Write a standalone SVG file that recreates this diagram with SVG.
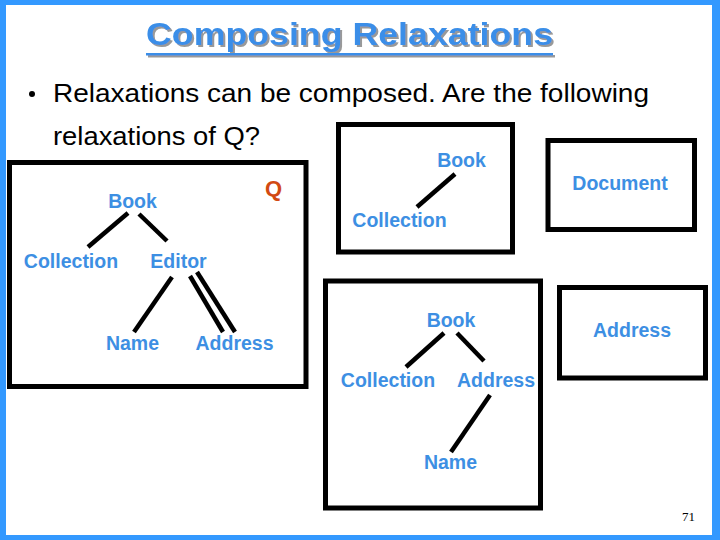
<svg xmlns="http://www.w3.org/2000/svg" width="720" height="540" viewBox="0 0 720 540">
<defs>
<filter id="shadow" x="-5%" y="-20%" width="110%" height="150%">
<feDropShadow dx="2" dy="2" stdDeviation="0.4" flood-color="#999999" flood-opacity="1"/>
</filter>
</defs>
<style>
.frame{fill:#3399ff}
.box{fill:none;stroke:#000;stroke-width:5}
.lbl{font-family:"Liberation Sans",Arial,sans-serif;font-weight:bold;font-size:19.5px;fill:#3d8fe3;text-anchor:middle}
.body{font-family:"Liberation Sans",Arial,sans-serif;font-size:26px;fill:#000}
.edge{stroke:#000;stroke-width:4.5;stroke-linecap:butt}
</style>
<rect width="720" height="540" fill="#fff"/>
<g id="frame">
<rect class="frame" x="0" y="0" width="720" height="5"/>
<rect class="frame" x="0" y="0" width="6" height="540"/>
<rect class="frame" x="712" y="0" width="8" height="540"/>
<rect class="frame" x="0" y="535" width="720" height="5"/>
</g>
<g id="title" filter="url(#shadow)">
<text x="146" y="45" font-family="Liberation Sans,Arial,sans-serif" font-weight="bold" font-size="31" fill="#3a8ee8" textLength="407" lengthAdjust="spacingAndGlyphs">Composing Relaxations</text>
<rect x="146" y="53" width="407" height="2.5" fill="#3a8ee8"/>
</g>
<g id="bullet">
<circle cx="32" cy="94" r="3" fill="#000"/>
<text class="body" x="53" y="102" textLength="596" lengthAdjust="spacingAndGlyphs">Relaxations can be composed. Are the following</text>
<text class="body" x="53" y="145" textLength="207" lengthAdjust="spacingAndGlyphs">relaxations of Q?</text>
</g>
<g id="boxQ">
<rect class="box" x="9.5" y="162.5" width="296.5" height="224"/>
<text x="265" y="196" font-family="Liberation Sans,Arial,sans-serif" font-weight="bold" font-size="22" fill="#d24a12">Q</text>
<text class="lbl" x="132.5" y="208">Book</text>
<text class="lbl" x="71" y="268">Collection</text>
<text class="lbl" x="178.5" y="268">Editor</text>
<text class="lbl" x="132.5" y="350">Name</text>
<text class="lbl" x="234.5" y="350">Address</text>
</g>
<g id="box2">
<rect class="box" x="338.5" y="124.5" width="174" height="127.5"/>
<text class="lbl" x="461.5" y="167">Book</text>
<text class="lbl" x="399.5" y="227">Collection</text>
</g>
<g id="box3">
<rect class="box" x="548" y="140.5" width="146.5" height="89"/>
<text class="lbl" x="620" y="190">Document</text>
</g>
<g id="box4">
<rect class="box" x="325.5" y="281" width="215" height="227"/>
<text class="lbl" x="451" y="327">Book</text>
<text class="lbl" x="388" y="387">Collection</text>
<text class="lbl" x="496" y="387">Address</text>
<text class="lbl" x="450.5" y="469">Name</text>
</g>
<g id="box5">
<rect class="box" x="559.5" y="287.5" width="146" height="90.5"/>
<text class="lbl" x="632" y="337">Address</text>
</g>
<g id="connectors">
<line class="edge" x1="128" y1="213" x2="88" y2="247"/>
<line class="edge" x1="139" y1="214" x2="167" y2="241"/>
<line class="edge" x1="172" y1="277" x2="134" y2="332"/>
<line class="edge" x1="190" y1="276" x2="223" y2="332"/>
<line class="edge" x1="197" y1="272" x2="235" y2="332"/>
<line class="edge" x1="455" y1="174" x2="417" y2="207"/>
<line class="edge" x1="444" y1="333" x2="406" y2="367"/>
<line class="edge" x1="457" y1="333" x2="484" y2="361"/>
<line class="edge" x1="490" y1="395" x2="451" y2="452"/>
</g>
<text x="682" y="521" font-family="Liberation Serif,Times New Roman,serif" font-size="13" fill="#000">71</text>
</svg>
